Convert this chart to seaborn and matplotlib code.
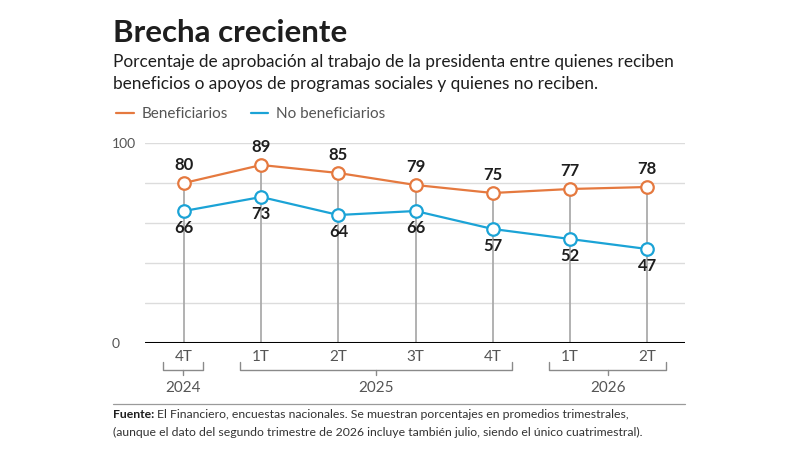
import matplotlib
matplotlib.use("Agg")
import matplotlib.pyplot as plt
import seaborn as sns
import pandas as pd
from matplotlib.lines import Line2D

# ---- data ----
quarters = ["4T", "1T", "2T", "3T", "4T", "1T", "2T"]
years = ["2024", "2025", "2026"]
year_groups = [(0, 0), (1, 4), (5, 6)]
beneficiarios = [80, 89, 85, 79, 75, 77, 78]
no_beneficiarios = [66, 73, 64, 66, 57, 52, 47]
series_names = ["Beneficiarios", "No beneficiarios"]

ORANGE = "#E5793F"
BLUE = "#1BA3D6"
TEXT = "#1e1e1e"
GRAY = "#555555"

sns.set_theme(style="white")
plt.rcParams["font.family"] = ["Lato", "DejaVu Sans"]

idx = list(range(len(quarters)))
df = pd.DataFrame({
    "x": idx * 2,
    "valor": beneficiarios + no_beneficiarios,
    "serie": [series_names[0]] * len(idx) + [series_names[1]] * len(idx),
})

fig = plt.figure(figsize=(8, 4.5), dpi=100)
fig.patch.set_facecolor("white")
ax = fig.add_axes([145 / 800, 1 - 343 / 450, 540 / 800, 200 / 450])

# gridlines
for g in [20, 40, 60, 80, 100]:
    ax.axhline(g, color="#dcdcdc", lw=1, zorder=0)

# drop lines
ax.vlines(idx, 0, beneficiarios, color="#ababab", lw=1.3, zorder=1)

sns.lineplot(data=df, x="x", y="valor", hue="serie", palette=[ORANGE, BLUE],
             marker="o", markersize=9, markerfacecolor="white",
             markeredgewidth=1.6, linewidth=1.6, ax=ax, legend=False, zorder=3)
for ln, c in zip(ax.get_lines()[-2:], [ORANGE, BLUE]):
    ln.set_markeredgecolor(c)

ax.axhline(0, color="black", lw=2.2, zorder=4)

for i, (b, n) in enumerate(zip(beneficiarios, no_beneficiarios)):
    ax.annotate(str(b), (i, b), xytext=(0, 13), textcoords="offset points",
                ha="center", va="center", fontsize=12, fontweight="bold",
                color=TEXT, zorder=5)
    ax.annotate(str(n), (i, n), xytext=(0, -12.5), textcoords="offset points",
                ha="center", va="center", fontsize=12, fontweight="bold",
                color=TEXT, zorder=5)

ax.set_xlim(-0.505, 6.49)
ax.set_ylim(0, 100)
ax.set_yticks([0, 20, 40, 60, 80, 100])
ax.set_yticklabels(["0", "", "", "", "", "100"], color=GRAY, fontsize=10)
for lab in ax.get_yticklabels():
    lab.set_horizontalalignment("left")
ax.tick_params(axis="y", length=0, pad=24)
ax.set_xticks(idx)
ax.set_xticklabels(quarters, color=GRAY, fontsize=11)
ax.tick_params(axis="x", length=0, pad=5)
ax.set_xlabel("")
ax.set_ylabel("")
for s in ax.spines.values():
    s.set_visible(False)

# year brackets
for (a, b), yr in zip(year_groups, years):
    x0, x1 = a - 0.27, b + 0.25
    xm = (x0 + x1) / 2
    ax.plot([x0, x0, x1, x1], [-9.5, -13.5, -13.5, -9.5], color="#8a8a8a",
            lw=1.0, clip_on=False, solid_joinstyle="round")
    ax.plot([xm, xm], [-13.5, -16], color="#8a8a8a", lw=1.0, clip_on=False)
    ax.text(xm, -22.5, yr, ha="center", va="center", fontsize=11,
            color=GRAY, clip_on=False)

# titles
fig.text(113 / 800, 1 - 33 / 450, "Brecha creciente", fontsize=22.5,
         fontweight="bold", color=TEXT, va="center", ha="left")
fig.text(113 / 800, 1 - 62 / 450,
         "Porcentaje de aprobación al trabajo de la presidenta entre quienes reciben",
         fontsize=12.4, color=TEXT, va="center", ha="left")
fig.text(113 / 800, 1 - 84 / 450,
         "beneficios o apoyos de programas sociales y quienes no reciben.",
         fontsize=12.4, color=TEXT, va="center", ha="left")

# legend
handles = [Line2D([0], [0], color=ORANGE, lw=1.6),
           Line2D([0], [0], color=BLUE, lw=1.6)]
leg = fig.legend(handles, series_names, loc="center left",
                 bbox_to_anchor=(110 / 800, 1 - 114 / 450), ncol=2,
                 frameon=False, fontsize=11, handlelength=1.15,
                 handletextpad=0.5, columnspacing=1.5, borderaxespad=0)
for t in leg.get_texts():
    t.set_color(GRAY)

# separator line
fig.add_artist(Line2D([113 / 800, 685 / 800], [1 - 404 / 450, 1 - 404 / 450],
                      color="#9a9a9a", lw=0.9))

# footnote
fig.canvas.draw()
r = fig.canvas.get_renderer()
t1 = fig.text(113 / 800, 1 - 415 / 450, "Fuente:", fontsize=8.8,
              fontweight="bold", color=TEXT, va="center", ha="left")
w = t1.get_window_extent(renderer=r).width
fig.text((113 + w + 3) / 800, 1 - 415 / 450,
         "El Financiero, encuestas nacionales. Se muestran porcentajes en promedios trimestrales,",
         fontsize=8.8, color="#333333", va="center", ha="left")
fig.text(113 / 800, 1 - 432 / 450,
         "(aunque el dato del segundo trimestre de 2026 incluye también julio, siendo el único cuatrimestral).",
         fontsize=8.8, color="#333333", va="center", ha="left")

fig.savefig("out.png", dpi=100, facecolor="white")
